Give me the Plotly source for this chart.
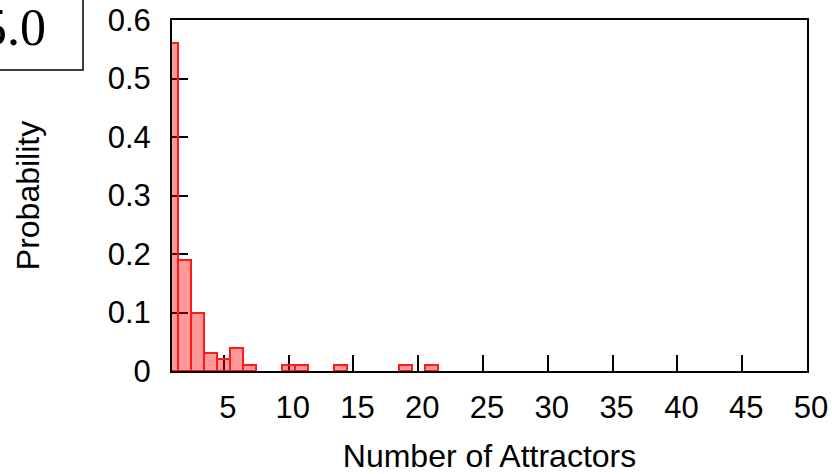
import plotly.graph_objects as go

# Data
attractors = [1, 2, 3, 4, 5, 6, 7, 10, 11, 14, 19, 21]
probability = [0.56, 0.19, 0.10, 0.03, 0.02, 0.04, 0.01, 0.01, 0.01, 0.01, 0.01, 0.01]
x_ticks = [5, 10, 15, 20, 25, 30, 35, 40, 45, 50]
y_ticks = [0, 0.1, 0.2, 0.3, 0.4, 0.5, 0.6]
y_tick_text = ["0", "0.1", "0.2", "0.3", "0.4", "0.5", "0.6"]
panel_label = "5.0"

W, H = 832, 474
L, T = 172, 20
PW, PH = 635, 351
R, B = W - L - PW, H - T - PH


def px_x(sx):
    return (sx - L) / PW


def px_y(sy):
    return 1 - (sy - T) / PH


fig = go.Figure()
fig.add_trace(go.Bar(
    x=attractors, y=probability, width=1,
    marker=dict(color="rgba(255,0,0,0.4)", line=dict(color="#ff1a1a", width=2)),
    showlegend=False,
))

font = "Liberation Sans, Arial, Helvetica, sans-serif"
fig.update_layout(
    width=W, height=H,
    margin=dict(l=L, r=R, t=T, b=B, autoexpand=False),
    plot_bgcolor="white", paper_bgcolor="white",
    bargap=0,
    font=dict(family=font, color="black", size=31),
    xaxis=dict(
        range=[1, 50], tickvals=x_ticks, ticks="inside", ticklen=16, tickwidth=2,
        tickcolor="black", showline=True, linecolor="black", linewidth=2, mirror=True,
        showgrid=False, zeroline=False, layer="below traces",
        tickfont=dict(size=31), ticklabelstandoff=8, ticklabelshift=4,
        ticklabeloverflow="allow",
        title=dict(text="Number of Attractors", font=dict(size=32), standoff=25),
    ),
    yaxis=dict(
        range=[0, 0.6], tickvals=y_ticks, ticktext=y_tick_text, ticks="inside",
        ticklen=16, tickwidth=2, tickcolor="black", showline=True, linecolor="black",
        linewidth=2, mirror=True, showgrid=False, zeroline=False, layer="below traces",
        tickfont=dict(size=31), ticklabelstandoff=13, ticklabeloverflow="allow",
        title=dict(text="Probability", font=dict(size=32), standoff=58),
    ),
)

# partial panel label box at top-left (cropped from a neighbouring panel)
fig.add_shape(type="rect", xref="paper", yref="paper",
              x0=px_x(-20), x1=px_x(83), y0=px_y(70), y1=px_y(-20),
              line=dict(color="black", width=1.5), fillcolor="rgba(0,0,0,0)")
fig.add_annotation(xref="paper", yref="paper", x=px_x(48), y=px_y(28),
                   xanchor="right", yanchor="middle", text=panel_label, showarrow=False,
                   font=dict(family="Liberation Serif, Times New Roman, serif", size=52, color="black"))

fig.write_html("out.html", config={"displayModeBar": False},
               post_script="document.body.style.margin='0px';")
